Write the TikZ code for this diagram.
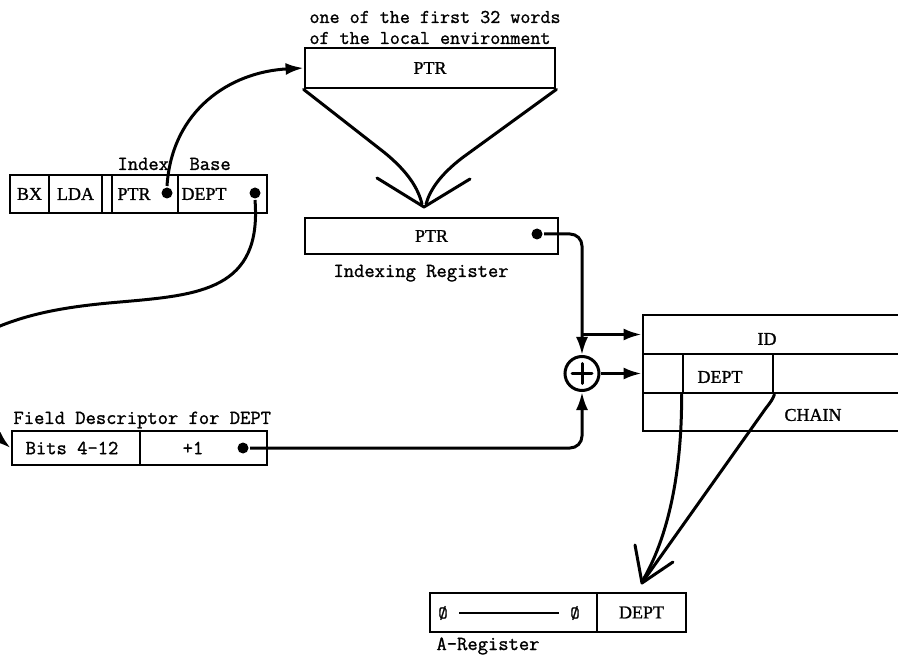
\documentclass[tikz,border=0pt]{standalone}
\usepackage{fontspec}
\setmainfont[FakeBold=1.2]{Liberation Serif}
\setmonofont[FakeBold=1.2]{Latin Modern Mono}
\usetikzlibrary{arrows.meta,calc}

\begin{document}
\begin{tikzpicture}[x=1pt,y=-1pt,
  line width=3pt,
  cell/.style={draw, line width=2.8pt, inner sep=0pt, font=\fontsize{18}{20}\selectfont},
  lbl/.style={inner sep=0pt, font=\fontsize{18}{20}\selectfont},
  tty/.style={inner sep=0pt, anchor=base west, font=\fontsize{20}{22}\ttfamily},
  dotc/.style={circle, fill, inner sep=0pt, minimum size=11pt},
  arr/.style={-{Latex[length=18pt,width=12pt]}, line width=3pt},
  plain/.style={line width=3pt, line cap=round, line join=round}]

\useasboundingbox (0,0) rectangle (898,663);
\clip (0,0) rectangle (898,663);

% ---- word of the local environment and its label
\node[cell, minimum width=250pt, minimum height=40pt] (env) at (430,68) {PTR};
\node[inner sep=0pt, anchor=base west, align=left, font=\fontsize{19.5}{21}\ttfamily]
  (envl) at (308,44) {one of the first 32 words\\of the local environment};

% ---- index/base instruction word
\node[cell, minimum width=39pt, minimum height=38pt] (ixbx)   at (29.5,194) {BX};
\node[cell, minimum width=53pt, minimum height=38pt] (ixlda)  at (75.5,194) {LDA};
\node[cell, minimum width=10pt, minimum height=38pt] (ixgap)  at (107,194) {};
\node[cell, minimum width=66pt, minimum height=38pt] (ixptr)  at (145,194) {};
\node[cell, minimum width=89pt, minimum height=38pt] (ixdept) at (222.5,194) {};
\node[lbl] (ixptrt)  at (134,194) {PTR};
\node[lbl] (ixdeptt) at (204,194) {DEPT};
\node[dotc] (ptrdot)  at (167,193) {};
\node[dotc] (deptdot) at (255,193) {};
\node[tty] (idxl)  at (116,170) {Index};
\node[tty] (basel) at (188,170) {Base};

% ---- indexing register
\node[cell, minimum width=253pt, minimum height=36pt] (ixreg) at (431.5,236) {PTR};
\node[dotc] (regdot) at (537,234) {};
\node[tty] (ixregl) at (332,277) {Indexing Register};

% ---- adder
\node[circle, draw, line width=3pt, minimum size=34pt, inner sep=0pt] (plus) at (582,373.5) {};
\draw[plain] ($(plus.center)+(-10,0)$) -- ($(plus.center)+(10,0)$);
\draw[plain] ($(plus.center)+(0,-10)$) -- ($(plus.center)+(0,10)$);

% ---- record in memory
\node[cell, minimum width=272pt, minimum height=39pt] (idrow)    at (779,334.5) {};
\node[cell, minimum width=272pt, minimum height=39pt] (deptrow)  at (779,373.5) {};
\node[cell, minimum width=272pt, minimum height=38pt] (chainrow) at (779,412) {};
\node[cell, minimum width=90pt,  minimum height=39pt] (deptcell) at (728,373.5) {};
\node[lbl] (idt)    at (767,339) {ID};
\node[lbl] (deptt)  at (720,377) {DEPT};
\node[lbl] (chaint) at (813,415) {CHAIN};

% ---- field descriptor
\node[cell, minimum width=128pt, minimum height=34pt] (fbits) at (76,448) {};
\node[cell, minimum width=127pt, minimum height=34pt] (fone) at (203.5,448) {};
\node[lbl, font=\fontsize{20}{22}\ttfamily] (fbitst) at (72,448) {Bits 4-12};
\node[lbl, font=\fontsize{20}{22}\ttfamily] (fonet) at (193,448) {+1};
\node[dotc] (fdot) at (243,448) {};
\node[tty] (fdl) at (12,424) {Field Descriptor for DEPT};

% ---- A-register
\node[cell, minimum width=167pt, minimum height=39pt] (aleft)  at (513.5,612.5) {};
\node[cell, minimum width=89pt,  minimum height=39pt] (aright) at (641.5,612.5) {DEPT};
\node[lbl, font=\fontsize{18}{18}\ttfamily] (zl) at (443,613) {Ø};
\node[lbl, font=\fontsize{18}{18}\ttfamily] (zr) at (575,613) {Ø};
\draw[line width=2pt] ($(zl.east)+(10,0)$) -- ($(zr.west)+(-10,0)$);
\node[tty] (areg) at (435,650) {A-Register};

% ---- connectors
% pointer fetch from the environment word
\draw[arr] (ptrdot.north) .. controls (172,110) and (230,72) .. (env.west);

% copy of PTR into the indexing register (funnel)
\coordinate (ftip) at (424,207);
\draw[plain] (env.south west) -- (385,153) .. controls (408,172) and (418,188) .. (422,204);
\draw[plain] (env.south east) -- (462,158) .. controls (440,175) and (430,190) .. (426,204);
\draw[plain] (377,178) -- (ftip) -- (470,179);

% base field to the field descriptor, looping round the left edge
\draw[arr] (deptdot.south) .. controls (262,290) and (200,295) .. (120,302)
  .. controls (60,307) and (20,315) .. (-20,335)
  .. controls (-60,360) and (-30,415) .. (fbits.west);

% indexing register into the adder and the record
\coordinate (br) at (582,334.5);
\draw[arr, rounded corners=12pt] (regdot.east) -| (plus.north);
\draw[arr] (br) -- (br -| idrow.west);
\draw[arr] (plus.east) -- (plus.east -| deptrow.west);
\draw[arr, rounded corners=12pt] (fdot.east) -| (plus.south);

% extracted field down to the A-register
\coordinate (atip) at (642,583);
\draw[plain] (deptcell.south west) .. controls (682,460) and (672,530) .. (643,580);
\draw[plain] (deptcell.south east) .. controls (773,399) and (770,403) .. (766,408) -- (644,580);
\draw[plain] (635,545) -- (atip) -- (673,562);

\end{tikzpicture}
\end{document}
